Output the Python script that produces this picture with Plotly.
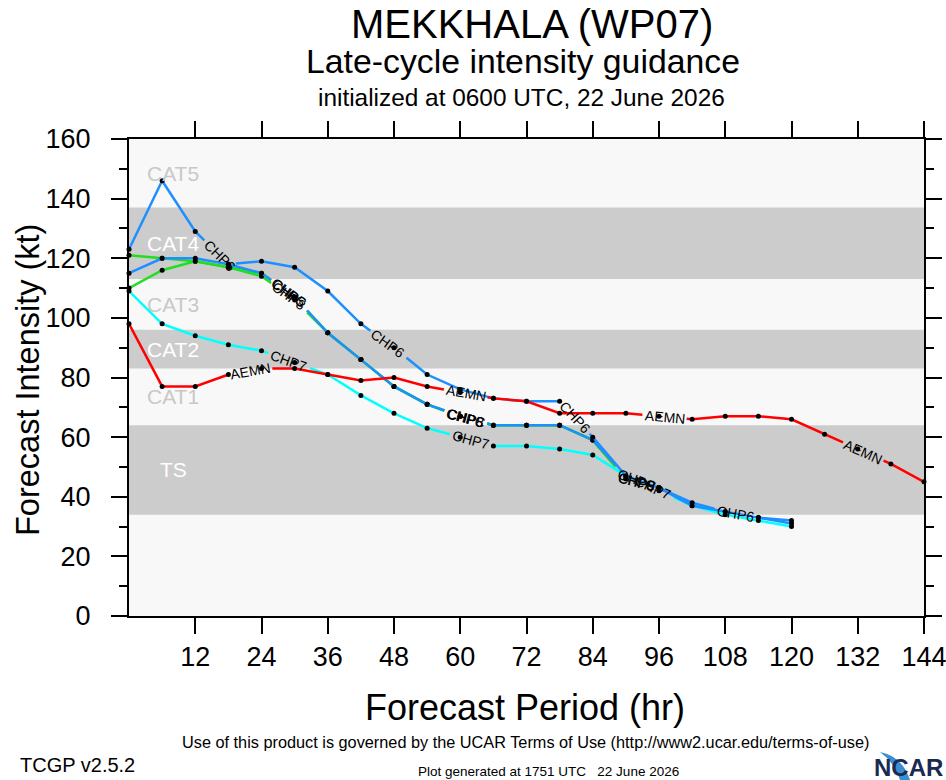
import math
import numpy as np
import plotly.graph_objects as go

# forecast hours (6-hourly)
hours = list(range(0, 145, 6))

# intensity guidance (kt)
aemn = [98, 77, 77, 81, 83, 83, 81, 79, 80, 77, 75, 73, 72, 68, 68, 68, 67,
        66, 67, 67, 66, 61, 56, 51, 45]
chp7 = [109, 98, 94, 91, 89, 85, 81, 74, 68, 63, 60, 57, 57, 56, 54, 47, 42,
        37, 34, 32, 30]
chp6 = [123, 146, 129, 118, 119, 117, 109, 98, 90, 81, 76, 73, 72, 72, 60, 47,
        43, 38, 35, 33, 31]
chpc = [115, 120, 120, 118, 115, 107, 95, 86, 77, 71, 67, 64, 64, 64, 59, 47,
        43, 37, 35, 33, 32]
chp5 = [121, 120, 119, 117, 115, 107, 95, 86, 77, 71, 67, 64, 64, 64, 59, 46, 43]
chp8 = [110, 116, 119, 117, 114, 106, 95, 86, 77, 71, 67, 64, 64, 64, 59, 46, 43]

# Saffir-Simpson category bounds (kt)
cat_names = ["TS", "CAT1", "CAT2", "CAT3", "CAT4", "CAT5"]
cat_bounds = [34, 64, 83, 96, 113, 137, 160]

xticks = list(range(12, 145, 12))

# plot area in pixels (for label angles and shapes outside the axes)
W, H = 946, 780
L, R, T, B = 129, 924, 139, 616
kx = (R - L) / 144.0
ky = (B - T) / 160.0


def px(x):
    return (x - L) / (R - L)


def py(y):
    return (B - y) / (B - T)


def gapped(hx, vals, gaps):
    pts = sorted(set(list(hx) + [g for ab in gaps for g in ab]))
    xs, ys = [], []
    for p in pts:
        if any(a < p < b for a, b in gaps):
            continue
        xs.append(p)
        ys.append(float(np.interp(p, hx, vals)))
        if any(abs(p - a) < 1e-9 for a, b in gaps):
            xs.append(None)
            ys.append(None)
    return xs, ys


fig = go.Figure()

# category bands
for i, name in enumerate(cat_names):
    lo, hi = cat_bounds[i], cat_bounds[i + 1]
    shaded = i % 2 == 0
    if shaded:
        fig.add_shape(type="rect", xref="paper", yref="y", x0=0, x1=1,
                      y0=lo, y1=hi, fillcolor="#cccccc", line_width=0,
                      layer="below")
    fig.add_annotation(x=8, y=(lo + hi) / 2, text=name, showarrow=False,
                       xanchor="center", yanchor="middle",
                       font=dict(size=21, color="white" if shaded else "#c8c8c8"))

series = [
    ("CHP5", hours[:len(chp5)], chp5, "#22dd22", [29, 61, 92]),
    ("CHP8", hours[:len(chp8)], chp8, "#22dd22", [29, 61, 92]),
    ("CHP7", hours[:len(chp7)], chp7, "#00ffff", [29, 62, 95]),
    ("CHPC", hours[:len(chpc)], chpc, "#1e8fff", [29, 61, 92]),
    ("CHP6", hours[:len(chp6)], chp6, "#1e8fff", [16.5, 47, 80.7, 110]),
    ("AEMN", hours[:len(aemn)], aemn, "#ff0000", [22, 61, 97, 133]),
]

for name, hx, vals, color, labs in series:
    gaps = []
    for h in labs:
        k = min(int(h // 6), len(hx) - 2)
        dy = vals[k + 1] - vals[k]
        ang = math.atan2(-dy * ky, 6 * kx)
        half = len(name) * 4.8 + 3
        dh = half * math.cos(ang) / kx
        gaps.append((h - dh, h + dh))
        fig.add_annotation(x=h, y=float(np.interp(h, hx, vals)), text=name,
                           showarrow=False, textangle=math.degrees(ang),
                           xanchor="center", yanchor="middle",
                           font=dict(size=14, color="black"))
    xs, ys = gapped(hx, vals, gaps)
    fig.add_trace(go.Scatter(x=xs, y=ys, mode="lines", name=name,
                             line=dict(color=color, width=2.5),
                             hoverinfo="skip"))
    fig.add_trace(go.Scatter(x=hx, y=vals, mode="markers", name=name,
                             marker=dict(color="black", size=5),
                             cliponaxis=False))

font = "Liberation Sans, Arial, sans-serif"
narrow = "Liberation Sans Narrow, Liberation Sans, Arial, sans-serif"

fig.update_layout(
    width=W, height=H, autosize=False,
    margin=dict(l=L, r=W - R, t=T, b=H - B, autoexpand=False),
    paper_bgcolor="white",
    plot_bgcolor="#f8f8f8",
    showlegend=False,
    font=dict(family=font, color="black"),
    xaxis=dict(range=[0, 144], tickvals=xticks, ticks="outside", ticklen=16,
               tickwidth=1.5, tickcolor="black", showline=True, linewidth=2,
               linecolor="black", mirror="ticks", showgrid=False,
               zeroline=False, tickfont=dict(size=27),
               ticklabeloverflow="allow"),
    yaxis=dict(range=[0, 160], dtick=20, ticks="outside", ticklen=16,
               tickwidth=1.5, tickcolor="black", showline=True, linewidth=2,
               linecolor="black", mirror="ticks", showgrid=False,
               zeroline=False, tickfont=dict(size=27), ticklabelstandoff=15,
               ticklabeloverflow="allow",
               minor=dict(dtick=10, ticks="outside", ticklen=8, tickwidth=1.5,
                          tickcolor="black", showgrid=False)),
)

# title sits against the top edge
fig.add_annotation(xref="paper", yref="paper", x=px(532), y=py(0),
                   text="MEKKHALA (WP07)", showarrow=False, xanchor="center",
                   yanchor="top", font=dict(size=40, family=font))

texts = [
    ("Late-cycle intensity guidance", 523, 61, 33.8, font),
    ("initialized at 0600 UTC, 22 June 2026", 521, 98, 24.4, font),
    ("Forecast Period (hr)", 525, 707, 36, font),
    ("Use of this product is governed by the UCAR Terms of Use (http://www2.ucar.edu/terms-of-use)",
     525, 742, 16.3, narrow),
    ("Plot generated at 1751 UTC   22 June 2026", 548, 771, 13.5, narrow),
]
for t, x, y, s, f in texts:
    fig.add_annotation(xref="paper", yref="paper", x=px(x), y=py(y), text=t,
                       showarrow=False, xanchor="center", yanchor="middle",
                       font=dict(size=s, family=f))

fig.add_annotation(xref="paper", yref="paper", x=px(28), y=py(380),
                   text="Forecast Intensity (kt)", showarrow=False,
                   xanchor="center", yanchor="middle",
                   textangle=-90, font=dict(size=32.5))
fig.add_annotation(xref="paper", yref="paper", x=px(18), y=py(765),
                   text="TCGP v2.5.2", showarrow=False, xanchor="left",
                   yanchor="middle", font=dict(size=20, family=narrow))

# NCAR logo
swoosh = "M {} {} Q {} {} {} {} L {} {} Q {} {} {} {} Z".format(
    px(880), py(752), px(902), py(756), px(910), py(780),
    px(900), py(780), px(894), py(762), px(880), py(752))
fig.add_shape(type="path", xref="paper", yref="paper", path=swoosh,
              fillcolor="#3a8fd0", line_width=0)
fig.add_annotation(xref="paper", yref="paper", x=px(945), y=py(767),
                   text="<b>NCAR</b>", showarrow=False, xanchor="right",
                   yanchor="middle",
                   font=dict(size=24, color="#1b2a52", family=narrow))

fig.write_html("out.html",
               config={"responsive": False, "displayModeBar": False},
               post_script="document.body.style.margin='0';")
